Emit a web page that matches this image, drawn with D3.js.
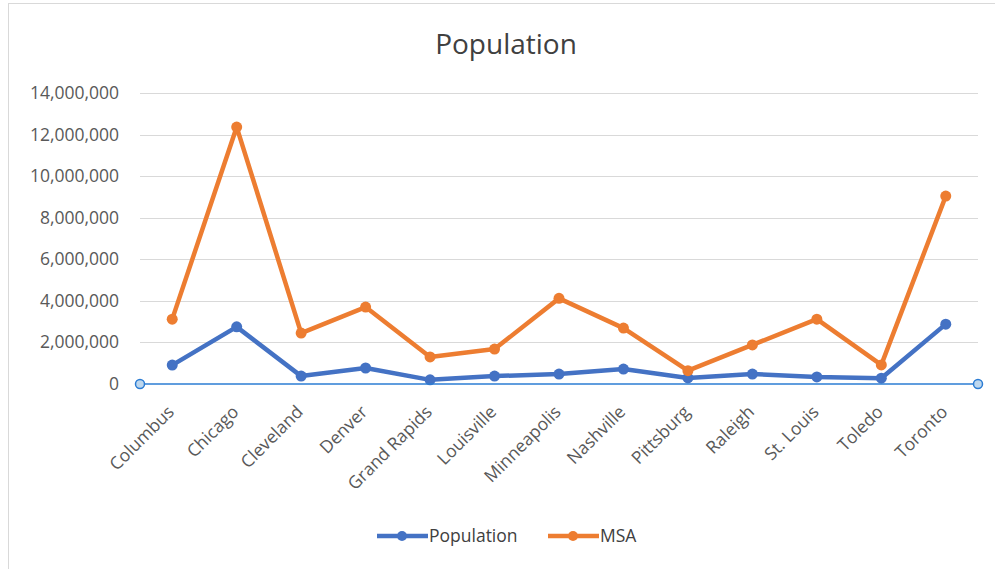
<!DOCTYPE html>
<html><head><meta charset="utf-8">
<script src="https://cdn.jsdelivr.net/npm/d3@7"></script>
<style>body{margin:0;background:#fff;} svg{display:block;}</style>
</head><body>
<script>
const categories = ["Columbus","Chicago","Cleveland","Denver","Grand Rapids","Louisville","Minneapolis","Nashville","Pittsburg","Raleigh","St. Louis","Toledo","Toronto"];
const population = [910000,2750000,380000,770000,200000,380000,480000,720000,290000,480000,340000,280000,2880000];
const msa = [3120000,12360000,2450000,3700000,1300000,1680000,4120000,2690000,640000,1880000,3120000,920000,9040000];
const yTicks = [0,2000000,4000000,6000000,8000000,10000000,12000000,14000000];
const seriesNames = ["Population","MSA"];
const colors = ["#4472C4","#ED7D31"];

const W=995,H=569;
const svg=d3.select("body").append("svg").attr("width",W).attr("height",H);
const font="'Open Sans', 'Noto Sans', sans-serif";
const fs=17.5;
svg.append("rect").attr("x",8.5).attr("y",3.5).attr("width",W).attr("height",H).attr("fill","#fff").attr("stroke","#d9d9d9");

const x=d3.scalePoint().domain(categories).range([140,978]).padding(0.5);
const y=d3.scaleLinear().domain([0,14000000]).range([384,93]);

svg.append("text").attr("x",506).attr("y",54).attr("text-anchor","middle").attr("font-family",font).attr("font-size",28).attr("fill","#404040").text("Population");

svg.append("g").selectAll("line").data(yTicks.slice(1)).join("line")
  .attr("x1",140).attr("x2",978).attr("y1",d=>Math.round(y(d))+0.5).attr("y2",d=>Math.round(y(d))+0.5)
  .attr("stroke","#d9d9d9").attr("stroke-width",1);

svg.append("g").selectAll("text").data(yTicks).join("text")
  .attr("x",119).attr("y",d=>y(d)+6).attr("text-anchor","end").attr("font-family",font).attr("font-size",fs).attr("fill","#595959")
  .text(d=>d3.format(",")(d));

svg.append("g").selectAll("text").data(categories).join("text")
  .attr("text-anchor","end").attr("font-family",font).attr("font-size",fs).attr("fill","#595959")
  .attr("transform",d=>`translate(${x(d)+3},${413}) rotate(-45)`).text(d=>d);

const line=d3.line().x((d,i)=>x(categories[i])).y(d=>y(d));
[population,msa].forEach((s,k)=>{
  svg.append("path").datum(s).attr("d",line).attr("fill","none").attr("stroke",colors[k]).attr("stroke-width",4.5).attr("stroke-linejoin","round");
  svg.append("g").selectAll("circle").data(s).join("circle").attr("cx",(d,i)=>x(categories[i])).attr("cy",d=>y(d)).attr("r",5.5).attr("fill",colors[k]);
});

// selected axis line with handles
svg.append("line").attr("x1",140).attr("x2",978).attr("y1",y(0)).attr("y2",y(0)).attr("stroke","#2B7CD3").attr("stroke-width",1.5);
[140,978].forEach(cx=>svg.append("circle").attr("cx",cx).attr("cy",y(0)).attr("r",4.5).attr("fill","#BDD7EE").attr("stroke","#2B7CD3").attr("stroke-width",1.5));

// legend
const leg=[{x:377,t:"Population"},{x:548,t:"MSA"}];
leg.forEach((l,k)=>{
  svg.append("line").attr("x1",l.x).attr("x2",l.x+51).attr("y1",536).attr("y2",536).attr("stroke",colors[k]).attr("stroke-width",4.5);
  svg.append("circle").attr("cx",l.x+25).attr("cy",536).attr("r",5).attr("fill",colors[k]);
  svg.append("text").attr("x",l.x+52).attr("y",542).attr("font-family",font).attr("font-size",fs).attr("fill","#404040").text(l.t);
});
</script>
</body></html>
